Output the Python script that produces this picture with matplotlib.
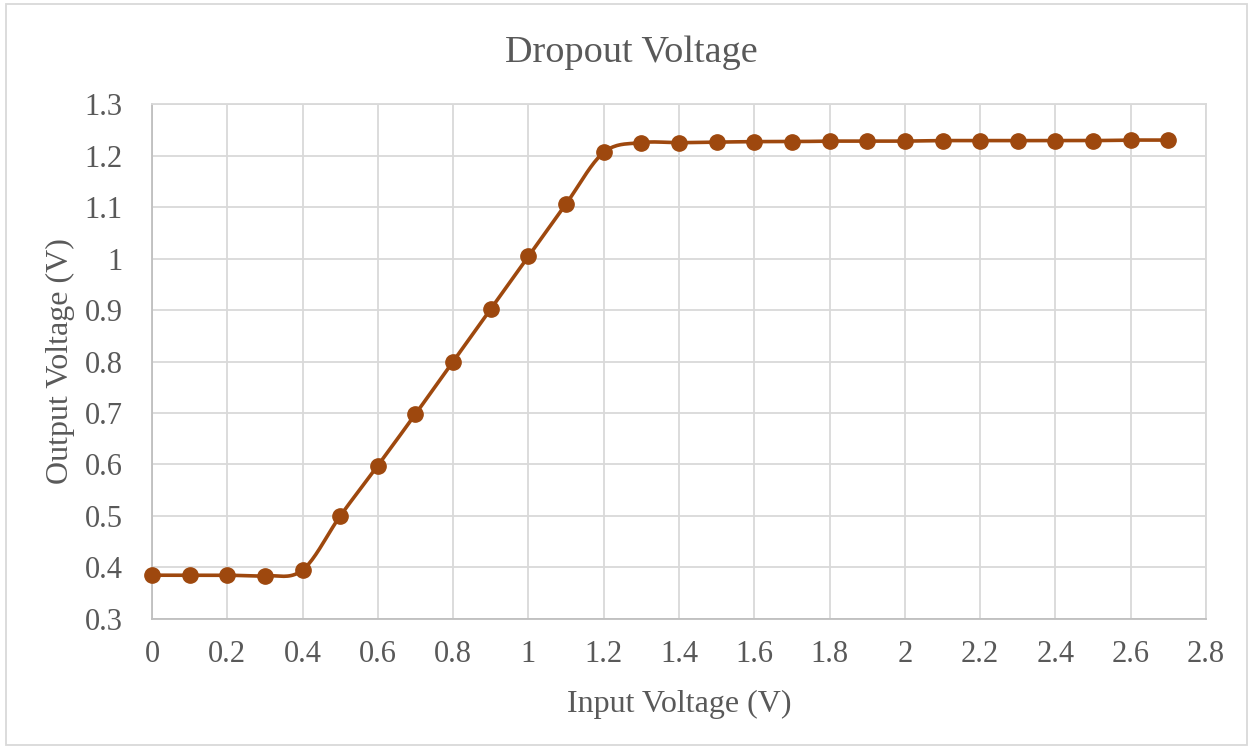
import matplotlib.pyplot as plt
from matplotlib.ticker import MultipleLocator
import numpy as np

plt.rcParams['font.family'] = ['Liberation Serif', 'DejaVu Serif']

# data
input_v = [0.0, 0.1, 0.2, 0.3, 0.4, 0.5, 0.6, 0.7, 0.8, 0.9, 1.0, 1.1, 1.2, 1.3,
           1.4, 1.5, 1.6, 1.7, 1.8, 1.9, 2.0, 2.1, 2.2, 2.3, 2.4, 2.5, 2.6, 2.7]
output_v = [0.385, 0.385, 0.385, 0.384, 0.395, 0.500, 0.598, 0.698, 0.800, 0.902,
            1.004, 1.106, 1.206, 1.225, 1.225, 1.226, 1.227, 1.227, 1.228, 1.228,
            1.228, 1.229, 1.229, 1.229, 1.229, 1.229, 1.230, 1.230]

LINE_COLOR = '#9E480E'
TEXT_COLOR = '#595959'
GRID_COLOR = '#D9D9D9'


def smooth(x, y, steps=20):
	# Catmull-Rom style smoothing, like Excel's "smoothed line"
	x = np.asarray(x, float)
	y = np.asarray(y, float)
	px = np.concatenate([[x[0]], x, [x[-1]]])
	py = np.concatenate([[y[0]], y, [y[-1]]])
	xs, ys = [], []
	t = np.linspace(0, 1, steps, endpoint=False)
	for i in range(1, len(px) - 2):
		p0, p1, p2, p3 = (np.array([px[j], py[j]]) for j in range(i - 1, i + 3))
		c1 = p1 + (p2 - p0) / 6
		c2 = p2 - (p3 - p1) / 6
		for tt in t:
			b = ((1 - tt) ** 3) * p1 + 3 * ((1 - tt) ** 2) * tt * c1 + 3 * (1 - tt) * tt ** 2 * c2 + tt ** 3 * p2
			xs.append(b[0])
			ys.append(b[1])
	xs.append(x[-1])
	ys.append(y[-1])
	return xs, ys


fig = plt.figure(figsize=(12.53, 7.49), dpi=100)
ax = fig.add_axes([0.1213, 0.1736, 0.8412, 0.6875])

sx, sy = smooth(input_v, output_v)
ax.plot(sx, sy, color=LINE_COLOR, lw=2.6, zorder=3, clip_on=False)
ax.plot(input_v, output_v, 'o', color=LINE_COLOR, ms=11, zorder=4, clip_on=False)

ax.set_xlim(0, 2.8)
ax.set_ylim(0.3, 1.3)
ax.xaxis.set_major_locator(MultipleLocator(0.2))
ax.yaxis.set_major_locator(MultipleLocator(0.1))
ax.xaxis.set_major_formatter(lambda v, p: f"{v:.1f}".rstrip('0').rstrip('.') if v != 0 else "0")
ax.yaxis.set_major_formatter(lambda v, p: f"{v:.1f}".rstrip('0').rstrip('.'))
ax.grid(True, color=GRID_COLOR, lw=1.3)
ax.set_axisbelow(True)
for s in ax.spines.values():
	s.set_color(GRID_COLOR)
	s.set_linewidth(1.3)
ax.spines['left'].set_color('#BFBFBF')
ax.spines['bottom'].set_color('#BFBFBF')
ax.tick_params(length=0, labelsize=22, colors=TEXT_COLOR)
ax.tick_params(axis='x', pad=15)
ax.tick_params(axis='y', pad=21)

# title and axis labels placed like the Excel chart
fig.text(0.5035, 0.917, 'Dropout Voltage', fontsize=27.5, color=TEXT_COLOR,
	ha='center', va='baseline')
fig.text(0.5419, 0.049, 'Input Voltage (V)', fontsize=23, color=TEXT_COLOR,
	ha='center', va='baseline')
fig.text(0.048, 0.518, 'Output Voltage (V)', fontsize=23, color=TEXT_COLOR,
	ha='center', va='center', rotation=90)

# outer chart border
border = plt.Rectangle((0.005, 0.006), 0.99, 0.988, transform=fig.transFigure,
	fill=False, edgecolor='#D9D9D9', lw=1.3)
fig.patches.append(border)

plt.savefig('out.png')
